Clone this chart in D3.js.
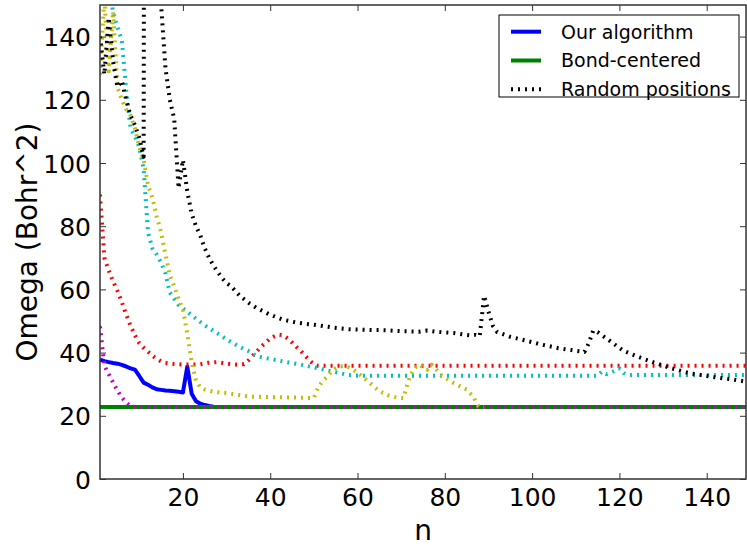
<!DOCTYPE html>
<html>
<head>
<meta charset="utf-8">
<script src="https://cdn.jsdelivr.net/npm/d3@7/dist/d3.min.js"></script>
<style>
  html, body { margin: 0; padding: 0; background: #fff; }
  svg { display: block; font-family: "DejaVu Sans", sans-serif; }
</style>
</head>
<body>
<svg id="chart" width="747" height="545"></svg>
<script>
// ---------- data ----------
const xTicks = [20, 40, 60, 80, 100, 120, 140];
const yTicks = [0, 20, 40, 60, 80, 100, 120, 140];
const xLabel = "n";
const yLabel = "Omega (Bohr^2)";
const legendLabels = ["Our algorithm", "Bond-centered", "Random positions"];

const ourN = [1,2,3,4,5,6,7,8,9,10,11,12,13,14,15,16,17,18,19,20,21,22,23,24,25,26,27,28,29,149];
const ourV = [37.8,37.3,37.0,36.7,36.5,36.1,35.6,35.0,34.6,32.6,30.5,29.8,29.0,28.4,28.2,28.0,27.9,27.8,27.6,27.4,35.6,27.0,24.6,23.8,23.4,23.1,22.9,22.8,22.8,22.8];

const bondN = [1, 149];
const bondV = [22.8, 22.8];

const redN = [1,2,3,4,5,6,7,8,9,10,11,12,13,14,15,16,18,20,22,24,26,28,30,32,34,35,36,37,38,39,40,41,42,43,44,45,46,47,48,49,50,51,149];
const redV = [90,70,66,62.5,59.5,56,52,48.5,45.5,43,41.5,40.3,39,38,37.2,36.7,36.4,36.2,36.2,36.3,36.8,37,36.5,36.2,36.3,37.5,39,40.5,42,43.2,44.5,45.2,45.7,45.5,44.5,43.2,41.8,40.5,39,37.5,36.3,35.8,35.8];

const cyanN = [1,2,3,4,5,6,7,8,9,10,11,12,13,14,15,16,17,18,19,20,22,25,28,30,33,35,37,40,43,47,50,53,56,58,60,115,116,117,118,119,120,121,122,149];
const cyanV = [200,175,158,147.5,143,139,123,111,108.5,105,98,78,73,71,68.5,65,59,57,55,54,51.8,48.6,46,44.2,41.8,40.5,38.8,38,37.2,36.2,35.3,34.4,33.5,32.9,32.7,32.7,34,33.2,33.6,34.3,35,33.5,32.9,32.9];

const magentaN = [1,2,3,4,5,6,7,8,9,149];
const magentaV = [48.3,35.8,33.2,30.5,28,25.8,24.2,23,22.8,22.8];

const yellowN = [1,2,3,4,5,6,7,8,9,10,11,12,13,14,15,16,17,18,19,20,21,22,23,24,25,27,30,35,40,45,50,51,52,53,54,55,56,57,58,59,60,62,64,65,67,69,70.5,71,72,73,74,75,76,77,78,79,82,85,86.5,87.7,88,89];
const yellowV = [128,152,129,148,124,120,117,115,111,105,101,93,89,83,78,71,64.5,61,57,53.6,46,37,31,29,28.3,27.6,27.2,26.1,25.9,25.8,25.6,29,31,32.2,34,35,35.6,35.7,35.3,34.6,33.6,31.4,29,27.8,26.5,25.8,25.6,28,32.5,35,36.2,35.4,34.6,36.2,34.8,33,30.4,28.3,26.1,23,22.8,22.8];

const blackN = [1,2,3,4,5,6,7,8,9,10,11,12,13,14,15,16,17,18,19,20,21,22,23,24,25,26,27,28,29,30,31,32,33,35,37,40,43,46,50,54,58,62,66,70,74,76,78,82,86,87,88,89,90,91,92,95,98,102,106,109,111,112,113,114,115,116,118,121,125,128,132,136,140,143,146,149];
const blackV = [140,128,146,132,124,126,120,115,112,108,102,1000,1000,1000,150,130,120,114,92,101,91,84,80,77,73,70,67.5,65.5,63.5,62,61,59.5,58,55.8,54,52,50.4,49.5,48.8,48,47.4,47.2,47.1,46.8,46.6,47,46.6,46.2,45.4,45.6,45.2,58,53,48.5,46.5,45,44,42.6,41.4,40.8,40.4,40.2,43,47,46.5,45.5,43.5,40.5,38.3,36.8,35,33.5,32.6,32,31.5,30.8];

const seriesList = [
  {n: ourN, v: ourV, color: "#0000ff", dotted: false},
  {n: bondN, v: bondV, color: "#008000", dotted: false},
  {n: redN, v: redV, color: "#ff0000", dotted: true},
  {n: cyanN, v: cyanV, color: "#00bfbf", dotted: true},
  {n: magentaN, v: magentaV, color: "#bf00bf", dotted: true},
  {n: yellowN, v: yellowV, color: "#bfbf00", dotted: true},
  {n: blackN, v: blackV, color: "#000000", dotted: true}
];
const legendColors = ["#0000ff", "#008000", "#000000"];
const legendDotted = [false, false, true];

// ---------- layout ----------
const W = 747, H = 545;
const PL = 100, PR = 746, PT = 5, PB = 479;
const svg = d3.select("#chart");
svg.append("rect").attr("width", W).attr("height", H).attr("fill", "#fff");

const x = d3.scaleLinear().domain([1, 149]).range([PL, PR]);
const y = d3.scaleLinear().domain([0, 150]).range([PB, PT]);

svg.append("defs").append("clipPath").attr("id", "clip")
  .append("rect").attr("x", PL).attr("y", PT).attr("width", PR - PL).attr("height", PB - PT);

const line = d3.line().x(d => x(d[0])).y(d => y(d[1]));
const plot = svg.append("g").attr("clip-path", "url(#clip)");
const DASH = "2,5";
seriesList.forEach(s => {
  plot.append("path")
    .datum(d3.zip(s.n, s.v))
    .attr("d", line)
    .attr("fill", "none")
    .attr("stroke", s.color)
    .attr("stroke-width", 4)
    .attr("stroke-linejoin", "round")
    .attr("stroke-linecap", "butt")
    .attr("stroke-dasharray", s.dotted ? DASH : null);
});

// ---------- axes ----------
const axisColor = "#333";
const fontTick = 25;
const gBottom = svg.append("g").attr("transform", `translate(0,${PB})`)
  .call(d3.axisBottom(x).tickValues(xTicks).tickSize(-6).tickPadding(9));
const gTop = svg.append("g").attr("transform", `translate(0,${PT})`)
  .call(d3.axisTop(x).tickValues(xTicks).tickSize(-6).tickFormat(""));
const gLeft = svg.append("g").attr("transform", `translate(${PL},0)`)
  .call(d3.axisLeft(y).tickValues(yTicks).tickSize(-6).tickPadding(9));
const gRight = svg.append("g").attr("transform", `translate(${PR},0)`)
  .call(d3.axisRight(y).tickValues(yTicks).tickSize(-6).tickFormat(""));
[gBottom, gTop, gLeft, gRight].forEach(g => {
  g.select(".domain").remove();
  g.selectAll(".tick line").attr("stroke", axisColor).attr("stroke-width", 1);
  g.selectAll(".tick text").attr("fill", "#000")
    .style("font-family", "DejaVu Sans").style("font-size", fontTick + "px");
});
gLeft.selectAll(".tick text").attr("dy", "0.36em");

// frame
svg.append("rect").attr("x", PL).attr("y", PT).attr("width", PR - PL).attr("height", PB - PT)
  .attr("fill", "none").attr("stroke", axisColor).attr("stroke-width", 1.5);

// axis labels
svg.append("text").attr("x", (PL + PR) / 2).attr("y", 540)
  .attr("text-anchor", "middle").style("font-size", "28px").text(xLabel);
svg.append("text").attr("transform", `translate(37,${(PT + PB) / 2}) rotate(-90)`)
  .attr("text-anchor", "middle").style("font-size", "28px").text(yLabel);

// ---------- legend ----------
const lg = svg.append("g");
lg.append("rect").attr("x", 499).attr("y", 15).attr("width", 240).attr("height", 82)
  .attr("fill", "#fff").attr("stroke", "#000").attr("stroke-width", 1);
legendLabels.forEach((lab, i) => {
  const cy = 31.7 + i * 28.8;
  lg.append("line").attr("x1", 511).attr("x2", 541).attr("y1", cy).attr("y2", cy)
    .attr("stroke", legendColors[i]).attr("stroke-width", 4)
    .attr("stroke-dasharray", legendDotted[i] ? DASH : null);
  lg.append("text").attr("x", 561).attr("y", cy + 6.8)
    .style("font-size", "19px").attr("fill", "#000").text(lab);
});
</script>
</body>
</html>
